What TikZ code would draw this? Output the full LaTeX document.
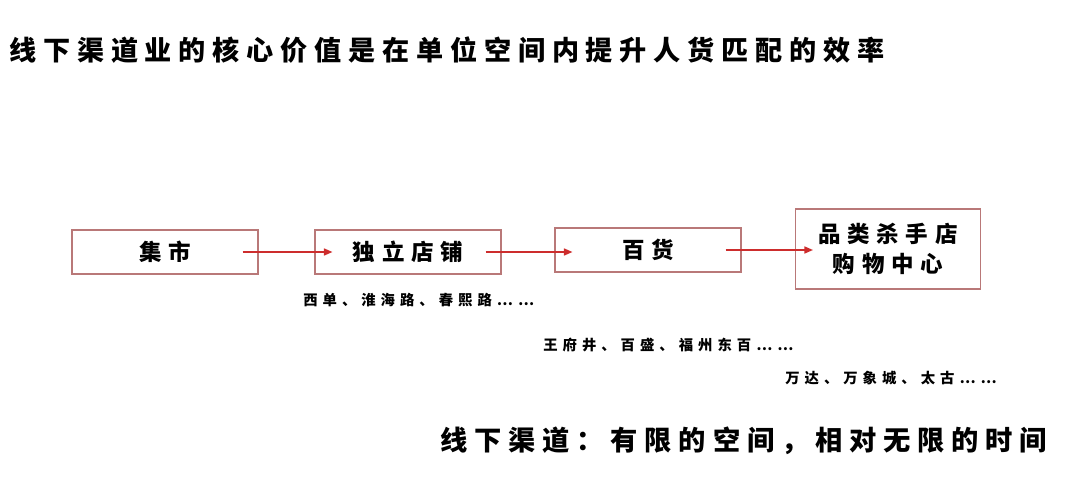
\documentclass[tikz,border=0pt]{standalone}
\usepackage{fontspec}
\newfontfamily\titlefont{Noto Sans CJK SC}[LetterSpace=25]
\newfontfamily\boxfont{Noto Sans CJK SC}[LetterSpace=30]
\newfontfamily\notefont{Noto Sans CJK SC}[LetterSpace=35]
\definecolor{boxred}{RGB}{185,120,120}
\definecolor{arrowred}{RGB}{205,45,45}
\usetikzlibrary{arrows.meta,positioning}

\begin{document}
\begin{tikzpicture}[x=0.025cm,y=-0.025cm,
  stage/.style={draw=boxred,line width=0.8pt,minimum width=4.65cm,minimum height=1.1cm,
    inner sep=0pt,font=\boxfont\fontsize{16}{21}\selectfont\bfseries,align=center},
  flow/.style={draw=arrowred,line width=1pt,-{Triangle[length=6pt,width=5pt]},
    shorten <=-0.4cm,shorten >=-0.45cm},
  note/.style={anchor=west,inner sep=0pt,font=\notefont\fontsize{10.2}{12}\selectfont\bfseries}]
\useasboundingbox (0,0) rectangle (1080,486);
% heading
\node[anchor=west,inner sep=0pt,font=\titlefont\fontsize{19.3}{22}\selectfont\bfseries]
  (title) at (9,50) {线下渠道业的核心价值是在单位空间内提升人货匹配的效率};
% stages
\node[stage] (jishi) at (165,252) {集市};
\node[stage] (duli) at (408,252) {独立店铺};
\node[stage] (baihuo) at (648,250) {百货};
\node[stage,minimum width=4.625cm,minimum height=2cm] (pinlei) at (888,249) {品类杀手店\\购物中心};
\draw[flow] (jishi.east) -- (jishi.east -| duli.west);
\draw[flow] (duli.east) -- (duli.east -| baihuo.west);
\draw[flow] (baihuo.east) -- (baihuo.east -| pinlei.west);
% examples
\node[note] (ex1) at (303,300) {西单、淮海路、春熙路……};
\node[note] (ex2) at (543,345) {王府井、百盛、福州东百……};
\node[note] (ex3) at (785,378) {万达、万象城、太古……};
% summary
\node[anchor=west,inner sep=0pt,font=\titlefont\fontsize{19.4}{24}\selectfont\bfseries]
  (summary) at (440,441) {线下渠道：有限的空间，相对无限的时间};
\end{tikzpicture}
\end{document}
